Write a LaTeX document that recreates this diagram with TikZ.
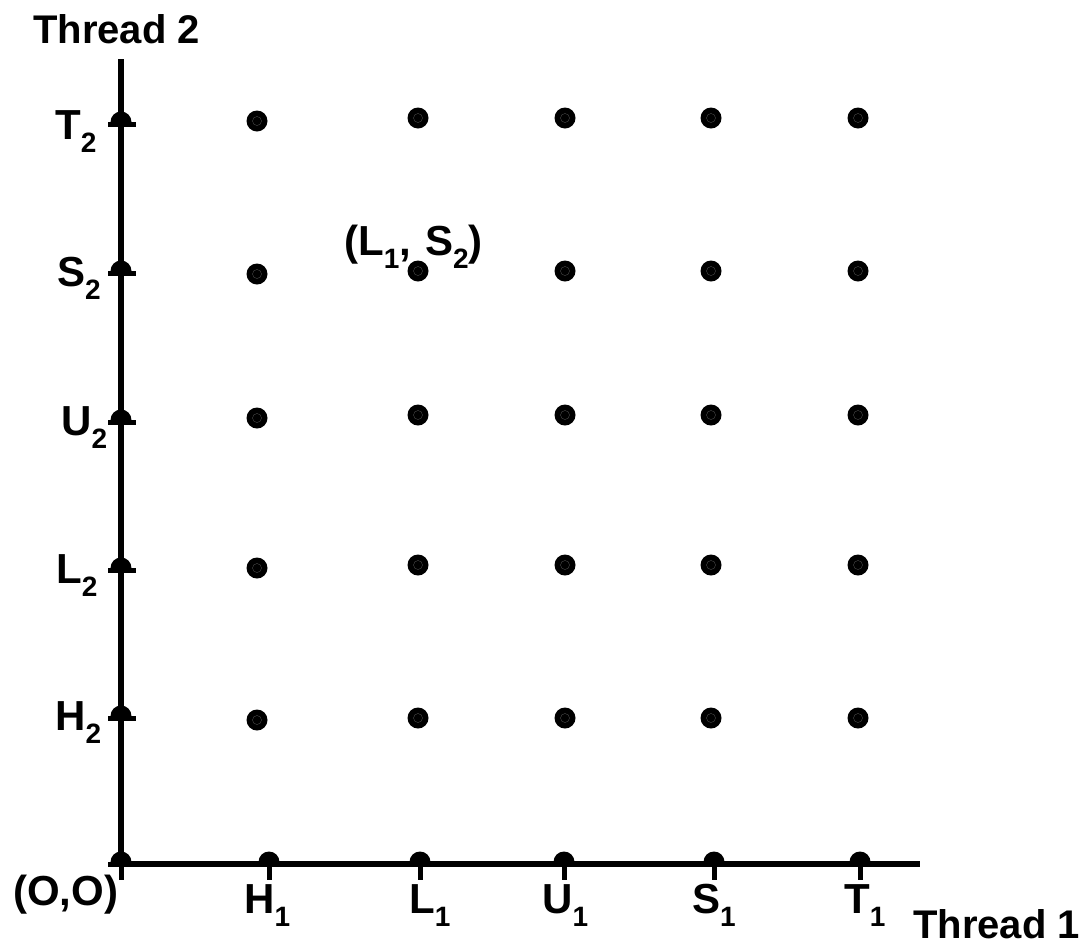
\documentclass[tikz,border=0pt]{standalone}
\usepackage{fontspec}
\setmainfont{Liberation Sans}
\newcommand{\sublbl}[2]{#1\raisebox{-13pt}{\fontsize{28}{28}\selectfont #2}}
\begin{document}
\begin{tikzpicture}[x=1pt,y=-1pt,
  lbl/.style={anchor=base west, inner sep=0pt, font=\fontsize{42}{48}\selectfont\bfseries},
  ttl/.style={anchor=base west, inner sep=0pt, font=\fontsize{40}{48}\selectfont\bfseries},
  gdot/.style={circle, fill=black, minimum size=21pt, inner sep=0pt,
    path picture={\draw[black!65, line width=0.3pt] (path picture bounding box.center) circle[radius=4.5pt];}},
  axisline/.style={line width=5.5pt},
  tickline/.style={line width=5pt},
]
\useasboundingbox (0,0) rectangle (1087,946);

% axes
\coordinate (ytop) at (121,59);
\coordinate (O) at (121,864);
\coordinate (xend) at (920,864);
\draw[axisline] (ytop) -- (O) -- (xend);

% origin marks
\fill (O) ++(-10.5,-2) arc[start angle=180, end angle=0, radius=10.5pt] -- cycle;
\coordinate (Ol) at (108,864);
\coordinate (Od) at (121,880);
\draw[tickline] (Ol) -- (O) -- (Od);

% y-axis ticks
\foreach \n/\yy in {T/124, S/273, U/422, L/570, H/718}{
  \coordinate (y\n) at (121,\yy);
  \coordinate (y\n l) at (108,\yy);
  \coordinate (y\n r) at (136,\yy);
  \fill (y\n) ++(-10.5,-2) arc[start angle=180, end angle=0, radius=10.5pt] -- cycle;
  \draw[tickline] (y\n l) -- (y\n r);
}
% x-axis ticks
\foreach \n/\xx in {H/269, L/420, U/564, S/714, T/860}{
  \coordinate (x\n) at (\xx,864);
  \coordinate (x\n d) at (\xx,880);
  \fill (x\n) ++(-10.5,-2) arc[start angle=180, end angle=0, radius=10.5pt] -- cycle;
  \draw[tickline] (x\n) -- (x\n d);
}

% grid of states
\foreach \r/\yy in {T/121, S/274, U/418, L/568, H/720}{
  \node[gdot] (dH\r) at (257,\yy) {};
}
\foreach \c/\xx in {L/418, U/565, S/711, T/858}{
  \foreach \r/\yy in {T/118, S/271, U/415, L/565, H/718}{
    \node[gdot] (d\c\r) at (\xx,\yy) {};
  }
}

% labels
\node[ttl] (th2) at (33,43) {Thread 2};
\node[ttl] (th1) at (913,938) {Thread 1};
\node[lbl] (lT2) at (55,139) {\sublbl{T}{2}};
\node[lbl] (lS2) at (57,286) {\sublbl{S}{2}};
\node[lbl] (lU2) at (61,435) {\sublbl{U}{2}};
\node[lbl] (lL2) at (56,583) {\sublbl{L}{2}};
\node[lbl] (lH2) at (55,730) {\sublbl{H}{2}};
\node[lbl] (lO) at (13,905) {(O,O)};
\node[lbl] (lH1) at (244,913) {\sublbl{H}{1}};
\node[lbl] (lL1) at (409,913) {\sublbl{L}{1}};
\node[lbl] (lU1) at (542,913) {\sublbl{U}{1}};
\node[lbl] (lS1) at (692,913) {\sublbl{S}{1}};
\node[lbl] (lT1) at (844,913) {\sublbl{T}{1}};
\node[lbl] (pt) at (344,255) {(\sublbl{L}{1},\hspace{14pt}\sublbl{S}{2})};
\end{tikzpicture}
\end{document}
